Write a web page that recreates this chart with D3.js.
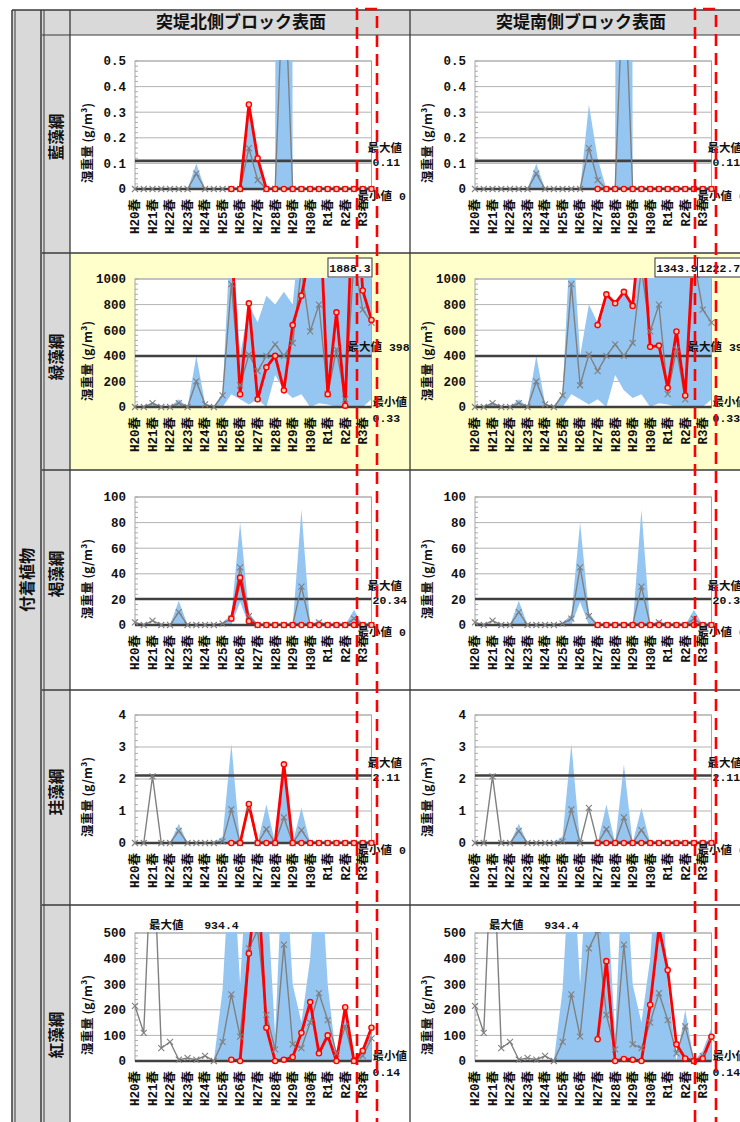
<!DOCTYPE html>
<html>
<head>
<meta charset="utf-8">
<script src="https://cdn.jsdelivr.net/npm/d3@7"></script>
<style>
body { margin: 0; background: #fff; }
svg text { font-weight: bold; fill: #111; }
.mono { font-family: "Liberation Mono", "Noto Sans CJK JP", monospace; }
.jp { font-family: "Noto Sans CJK JP", sans-serif; }
</style>
</head>
<body>
<script>
// categories: spring / autumn of each year, labels only on spring
var years = ["H20", "H21", "H22", "H23", "H24", "H25", "H26", "H27", "H28", "H29", "H30", "R1", "R2", "R3"];
var tickLabels = years.map(function (y) { return y + "春"; });
var classNames = ["藍藻綱", "緑藻綱", "褐藻綱", "珪藻綱", "紅藻綱"];
var columnTitles = ["突堤北側ブロック表面", "突堤南側ブロック表面"];
var groupTitle = "付着植物";
var yTitle = "湿重量 (g/m³)";

// 藍藻綱
var cyanoAve = [0, 0, 0, 0, 0, 0, 0, 0.06, 0, 0, 0, 0, 0, 0.16, 0.035, 0, 0, 0.9, 0, 0, 0, 0, 0, 0, 0, 0, 0, 0];
var cyanoLow = [0, 0, 0, 0, 0, 0, 0, 0, 0, 0, 0, 0, 0, 0, 0, 0, 0, 0, 0, 0, 0, 0, 0, 0, 0, 0, 0, 0];
var cyanoHigh = [0, 0, 0, 0, 0, 0, 0, 0.1, 0, 0, 0, 0, 0, 0.33, 0.12, 0, 0, 20, 0, 0, 0, 0, 0, 0, 0, 0, 0, 0];
var cyanoNorth = [null, null, null, null, null, null, null, null, null, null, null, 0, 0, 0.33, 0.12, 0, 0, 0, 0, 0, 0, 0, 0, 0, 0, 0, 0, 0];
var cyanoSouth = [null, null, null, null, null, null, null, null, null, null, null, null, null, null, 0, 0, 0, 0, 0, 0, 0, 0, 0, 0, 0, 0, 0, 0];

// 緑藻綱
var greenAve = [0, 0, 30, 0, 0, 30, 0, 200, 20, 0, 90, 960, 170, 410, 280, 400, 490, 400, 500, 1080, 590, 800, 100, 450, 60, 1150, 760, 660];
var greenLow = [0, 0, 0, 0, 0, 0, 0, 0, 0, 0, 0, 100, 60, 20, 60, 0, 250, 130, 70, 100, 0, 30, 20, 0, 0, 0, 0, 60];
var greenHigh = [0, 0, 40, 0, 0, 60, 0, 400, 30, 0, 110, 1500, 400, 800, 660, 870, 800, 900, 800, 1500, 1500, 1500, 1500, 1500, 1500, 1500, 1500, 1500];
var greenNorth = [null, null, null, null, null, null, null, null, null, null, null, 1300, 100, 810, 60, 310, 400, 130, 640, 870, 1200, 1700, 100, 740, 10, 1888.3, 910, 680];
var greenSouth = [null, null, null, null, null, null, null, null, null, null, null, null, null, null, 640, 880, 810, 900, 790, 1500, 470, 480, 150, 590, 90, 1343.9, 1300, 1222.7];

// 褐藻綱
var brownAve = [2, 0, 3.5, 0, 0, 10, 0, 0, 0, 0, 1, 5, 45, 7, 0, 0, 0, 0, 0, 30, 0, 2, 0, 0, 0, 5, 0, 0];
var brownLow = [0, 0, 0, 0, 0, 0, 0, 0, 0, 0, 0, 0, 18, 0, 0, 0, 0, 0, 0, 0, 0, 0, 0, 0, 0, 0, 0, 0];
var brownHigh = [0, 0, 0, 0, 0, 19, 0, 0, 0, 0, 2, 8, 80, 10, 0, 0, 0, 0, 0, 90, 0, 4, 0, 0, 0, 12, 0, 0];
var brownNorth = [null, null, null, null, null, null, null, null, null, null, null, 5, 37, 3, 0, 0, 0, 0, 0, 0, 0, 0, 0, 0, 0, 0, 0, 0];
var brownSouth = [null, null, null, null, null, null, null, null, null, null, null, null, null, null, 0, 0, 0, 0, 0, 0, 0, 0, 0, 0, 0, 0, 0, 0];

// 珪藻綱
var diatomAve = [0, 0, 2.08, 0, 0, 0.38, 0, 0, 0, 0, 0.05, 1.05, 0, 1.1, 0, 0.43, 0, 0.8, 0, 0.4, 0, 0, 0, 0, 0, 0, 0, 0];
var diatomLow = [0, 0, 0, 0, 0, 0, 0, 0, 0, 0, 0, 0, 0, 0, 0, 0, 0, 0, 0, 0, 0, 0, 0, 0, 0, 0, 0, 0];
var diatomHigh = [0, 0, 0, 0, 0, 0.6, 0, 0, 0, 0, 0.2, 3.1, 0, 0, 0, 1.2, 0, 2.45, 0, 1.1, 0, 0, 0, 0, 0, 0, 0, 0];
var diatomNorth = [null, null, null, null, null, null, null, null, null, null, null, 0, 0, 1.22, 0, 0, 0, 2.46, 0, 0, 0, 0, 0, 0, 0, 0, 0, 0];
var diatomSouth = [null, null, null, null, null, null, null, null, null, null, null, null, null, null, 0, 0, 0, 0, 0, 0, 0, 0, 0, 0, 0, 0, 0, 0];

// 紅藻綱
var redAve = [215, 110, 934.4, 50, 75, 5, 12, 5, 20, 0, 75, 260, 95, 440, 510, 180, 45, 455, 65, 50, 150, 265, 160, 30, 135, 0, 20, 88];
var redLow = [0, 0, 0, 0, 0, 0, 0, 0, 0, 0, 0, 0, 0, 0, 0, 0, 0, 0, 0, 0, 0, 0, 0, 0, 0, 0, 0, 0];
var redHigh = [0, 0, 0, 0, 0, 0, 0, 0, 0, 0, 280, 900, 300, 900, 900, 700, 100, 900, 300, 150, 400, 900, 300, 0, 200, 0, 40, 130];
var redNorth = [null, null, null, null, null, null, null, null, null, null, null, 5, 0, 420, 720, 130, 0, 5, 15, 110, 230, 30, 100, 0, 210, 0, 40, 130];
var redSouth = [null, null, null, null, null, null, null, null, null, null, null, null, null, null, 85, 390, 0, 8, 5, 0, 220, 520, 355, 65, 10, 0, 10, 95];

var refMax = [0.11, 398, 20.34, 2.11, 934.4];
var refMin = [0, 0.33, 0, 0, 0.14];
var yMaxes = [0.5, 1000, 100, 4, 500];

// values above the plot that get a boxed label: [row, column, point]
var boxedPoints = [[1, 0, 25], [1, 1, 25], [1, 1, 27]];

var panels = [
  { ave: cyanoAve, low: cyanoLow, high: cyanoHigh, obs: [cyanoNorth, cyanoSouth], maxStyle: "two", minStyle: "one" },
  { ave: greenAve, low: greenLow, high: greenHigh, obs: [greenNorth, greenSouth], maxStyle: "one", minStyle: "two" },
  { ave: brownAve, low: brownLow, high: brownHigh, obs: [brownNorth, brownSouth], maxStyle: "two", minStyle: "one" },
  { ave: diatomAve, low: diatomLow, high: diatomHigh, obs: [diatomNorth, diatomSouth], maxStyle: "two", minStyle: "one" },
  { ave: redAve, low: redLow, high: redHigh, obs: [redNorth, redSouth], maxStyle: "top", minStyle: "two" }
];

var width = 740, height = 1122;
var rowTops = [35, 253, 470, 690, 905];
var rowEnds = [253, 470, 690, 905, 1122];
var plotTopOffsets = [26, 26, 27, 25, 28];
var rowLabelY = [137, 357, 574, 792, 1035];
var colLefts = [70, 410];
var plotW = 236.5, plotH = 128;
var nPts = years.length * 2;

var svg = d3.select("body").append("svg").attr("width", width).attr("height", height);

// table backgrounds
svg.append("rect").attr("x", 12).attr("y", 10).attr("width", 58).attr("height", height - 10).attr("fill", "#d9d9d9");
svg.append("rect").attr("x", 70).attr("y", 10).attr("width", width - 70).attr("height", 25).attr("fill", "#d9d9d9");
svg.append("rect").attr("x", 70).attr("y", rowTops[1]).attr("width", width - 70).attr("height", rowEnds[1] - rowTops[1]).attr("fill", "#ffffcc");

// headers
columnTitles.forEach(function (t, c) {
  svg.append("text").attr("class", "jp")
    .attr("x", colLefts[c] + 171).attr("y", 22.5)
    .attr("dy", "0.35em").attr("text-anchor", "middle")
    .style("font-size", "17px").text(t);
});
svg.append("text").attr("class", "jp")
  .attr("transform", "translate(33,580) rotate(-90)")
  .attr("text-anchor", "middle").style("font-size", "16px").text(groupTitle);
classNames.forEach(function (t, r) {
  svg.append("text").attr("class", "jp")
    .attr("transform", "translate(61.5," + rowLabelY[r] + ") rotate(-90)")
    .attr("text-anchor", "middle").style("font-size", "15.5px").text(t);
});

function fmt(v) { return String(v); }

function drawPanel(p, r, c) {
  var pl = colLefts[c] + 65, pr = pl + plotW;
  var pt = rowTops[r] + plotTopOffsets[r], pb = pt + plotH;
  var x = d3.scalePoint().domain(d3.range(nPts)).range([pl, pr]);
  var y = d3.scaleLinear().domain([0, yMaxes[r]]).range([pb, pt]);
  var g = svg.append("g");
  var clipId = "clip" + r + "_" + c;
  g.append("clipPath").attr("id", clipId)
    .append("rect").attr("x", pl).attr("y", pt - 1).attr("width", plotW).attr("height", plotH + 1);
  var clip = "url(#" + clipId + ")";

  g.append("rect").attr("x", pl).attr("y", pt).attr("width", plotW).attr("height", plotH)
    .attr("fill", "#fff").attr("stroke", "#a6a6a6");

  var ticks = y.ticks(5);
  var step = ticks[1] - ticks[0];
  // minor ticks
  g.selectAll(".minor").data(d3.range(0, yMaxes[r] + 1e-9, step / 5)).join("line")
    .attr("x1", pl).attr("x2", pl + 3)
    .attr("y1", function (d) { return y(d); }).attr("y2", function (d) { return y(d); })
    .attr("stroke", "#999").attr("stroke-width", 0.8);
  g.selectAll(".grid").data(ticks.filter(function (t) { return t > 0; })).join("line")
    .attr("x1", pl).attr("x2", pr)
    .attr("y1", function (d) { return y(d); }).attr("y2", function (d) { return y(d); })
    .attr("stroke", "#b3b3b3").attr("stroke-width", 1);
  g.selectAll(".ytick").data(ticks).join("text").attr("class", "mono")
    .attr("x", pl - 9).attr("y", function (d) { return y(d); })
    .attr("dy", "0.35em").attr("text-anchor", "end")
    .style("font-size", "12.5px")
    .text(function (d) { return d3.format("~g")(d); });

  // x labels (spring only)
  g.selectAll(".xlab").data(tickLabels).join("text").attr("class", "mono")
    .attr("transform", function (d, k) { return "translate(" + x(k * 2) + "," + (pb + 10) + ") rotate(-90)"; })
    .attr("dy", "0.35em").attr("text-anchor", "end")
    .style("font-size", "12.5px")
    .text(function (d) { return d; });

  // y title
  g.append("text").attr("class", "jp")
    .attr("transform", "translate(" + (colLefts[c] + 22) + "," + (pt + plotH / 2 + 18) + ") rotate(-90)")
    .attr("text-anchor", "middle").style("font-size", "12.5px").text(yTitle);

  // range band
  var idx = d3.range(nPts);
  g.append("path").datum(idx).attr("clip-path", clip)
    .attr("fill", "#95c6f2")
    .attr("d", d3.area().x(function (i) { return x(i); })
      .y0(function (i) { return y(p.low[i]); })
      .y1(function (i) { return y(p.high[i]); }));

  // max reference line
  if (refMax[r] <= yMaxes[r]) {
    g.append("line").attr("x1", pl).attr("x2", pr)
      .attr("y1", y(refMax[r])).attr("y2", y(refMax[r]))
      .attr("stroke", "#404040").attr("stroke-width", 2.6);
  }

  // average line
  g.append("path").datum(idx).attr("clip-path", clip)
    .attr("fill", "none").attr("stroke", "#808080").attr("stroke-width", 1.4)
    .attr("d", d3.line().x(function (i) { return x(i); }).y(function (i) { return y(p.ave[i]); }));

  // observed line
  var obs = p.obs[c];
  g.append("path").datum(idx).attr("clip-path", clip)
    .attr("fill", "none").attr("stroke", "#ff0000").attr("stroke-width", 2.8)
    .attr("stroke-linejoin", "round")
    .attr("d", d3.line().defined(function (i) { return obs[i] != null; })
      .x(function (i) { return x(i); }).y(function (i) { return y(obs[i]); }));

  // zero axis
  g.append("line").attr("x1", pl).attr("x2", pr).attr("y1", pb).attr("y2", pb)
    .attr("stroke", "#404040").attr("stroke-width", 2.6);

  // markers
  g.append("clipPath").attr("id", clipId + "m")
    .append("rect").attr("x", pl - 6).attr("y", pt - 1).attr("width", plotW + 12).attr("height", plotH + 8);
  var mk = g.append("g").attr("clip-path", "url(#" + clipId + "m)");
  mk.selectAll(".xm").data(idx).join("path")
    .attr("transform", function (i) { return "translate(" + x(i) + "," + y(p.ave[i]) + ")"; })
    .attr("d", "M-3,-3L3,3M-3,3L3,-3")
    .attr("stroke", "#7f7f7f").attr("stroke-width", 1.1).attr("fill", "none");
  mk.selectAll(".om").data(idx.filter(function (i) { return obs[i] != null; })).join("circle")
    .attr("cx", function (i) { return x(i); }).attr("cy", function (i) { return y(obs[i]); })
    .attr("r", 2.6).attr("fill", "#ffc8b4").attr("stroke", "#ff0000").attr("stroke-width", 1.4);

  // reference labels
  var ym = y(refMax[r]);
  if (p.maxStyle === "two") {
    g.append("text").attr("class", "mono").attr("x", pr - 4).attr("y", ym - 13).attr("dy", "0.35em")
      .style("font-size", "11.5px").text("最大値");
    g.append("text").attr("class", "mono").attr("x", pr + 1).attr("y", ym + 1).attr("dy", "0.35em")
      .style("font-size", "11.5px").text(fmt(refMax[r]));
  } else if (p.maxStyle === "one") {
    g.append("text").attr("class", "mono").attr("x", pr - 24).attr("y", ym - 9).attr("dy", "0.35em")
      .style("font-size", "11.5px").text("最大値 " + fmt(refMax[r]));
  } else {
    g.append("text").attr("class", "mono").attr("x", pl + 14).attr("y", pt - 8).attr("dy", "0.35em")
      .style("font-size", "11.5px").attr("xml:space", "preserve").text("最大値   " + fmt(refMax[r]));
  }
  if (p.minStyle === "one") {
    g.append("text").attr("class", "mono").attr("x", pr - 14).attr("y", pb + 7).attr("dy", "0.35em")
      .style("font-size", "11.5px").text("最小値 " + fmt(refMin[r]));
  } else {
    g.append("text").attr("class", "mono").attr("x", pr + 1).attr("y", pb - 5).attr("dy", "0.35em")
      .style("font-size", "11.5px").text("最小値");
    g.append("text").attr("class", "mono").attr("x", pr + 1).attr("y", pb + 11).attr("dy", "0.35em")
      .style("font-size", "11.5px").text(fmt(refMin[r]));
  }

  // boxed labels for points above the plot
  boxedPoints.filter(function (b) { return b[0] === r && b[1] === c; }).forEach(function (b, k, arr) {
    var i = b[2];
    var cx = x(i) + (arr.length > 1 ? (k === 0 ? -17 : 8) : -4);
    g.append("rect").attr("x", cx - 22).attr("y", rowTops[r] + 5).attr("width", 44).attr("height", 19)
      .attr("fill", "#fff").attr("stroke", "#333").attr("stroke-width", 1);
    g.append("text").attr("class", "mono").attr("x", cx).attr("y", rowTops[r] + 15).attr("dy", "0.35em")
      .attr("text-anchor", "middle").style("font-size", "11.5px").text(fmt(obs[i]));
  });
}

panels.forEach(function (p, r) {
  drawPanel(p, r, 0);
  drawPanel(p, r, 1);
});

// table lines
var lineColor = "#3a3a3a";
function hline(x1, x2, yy, w) {
  svg.append("line").attr("x1", x1).attr("x2", x2).attr("y1", yy).attr("y2", yy)
    .attr("stroke", lineColor).attr("stroke-width", w || 1.2);
}
function vline(xx, y1, y2, w) {
  svg.append("line").attr("x1", xx).attr("x2", xx).attr("y1", y1).attr("y2", y2)
    .attr("stroke", lineColor).attr("stroke-width", w || 1.2);
}
hline(12, width, 10, 1.5);
hline(42, width, 35);
rowTops.slice(1).forEach(function (t) { hline(42, width, t, 1.5); });
vline(12, 10, height, 1.5);
vline(15, 10, height, 1);
vline(41, 10, height, 1.5);
vline(44, 10, height, 1);
vline(70, 10, height, 1.3);
vline(410, 10, height, 1.3);

// red dashed frames
[[357, 377], [695, 716]].forEach(function (f) {
  svg.append("path")
    .attr("d", "M" + f[0] + "," + height + "V9H" + f[1] + "V" + height)
    .attr("fill", "none").attr("stroke", "#ff0000").attr("stroke-width", 2.6)
    .attr("stroke-dasharray", "12,7");
});
</script>
</body>
</html>
